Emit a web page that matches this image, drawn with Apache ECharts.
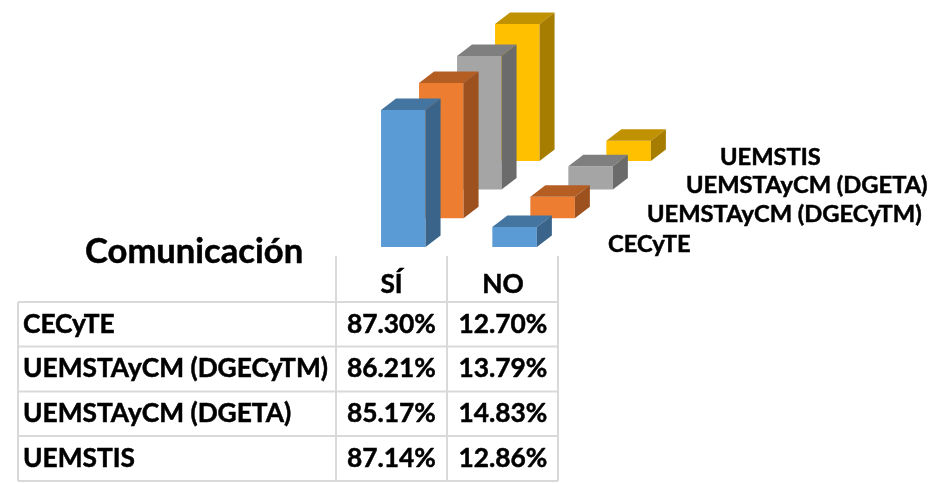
<!DOCTYPE html>
<html><head><meta charset="utf-8">
<script src="https://cdn.jsdelivr.net/npm/echarts@6/dist/echarts.min.js"></script>
<style>html,body{margin:0;padding:0;background:#fff}#c{width:933px;height:483px}</style>
</head><body><div id="c"></div>
<script>
const titleText = 'Comunicación';
const categories = ['SÍ', 'NO'];
const cecyte = [87.30, 12.70];
const dgecytm = [86.21, 13.79];
const dgeta = [85.17, 14.83];
const uemstis = [87.14, 12.86];
const seriesNames = ['CECyTE', 'UEMSTAyCM (DGECyTM)', 'UEMSTAyCM (DGETA)', 'UEMSTIS'];
const seriesValues = [cecyte, dgecytm, dgeta, uemstis];

const faceColors = ['#5B9BD5', '#ED7D31', '#A5A5A5', '#FFC000'];
const topColors = ['#4475A0', '#B55E24', '#7F7F7F', '#C09100'];
const sideColors = ['#3A648A', '#9C511F', '#6B6B6B', '#A67D00'];
const FONT = 'Lato';
const stepX = 38, stepY = 28.7, depthX = 15, depthY = 11.5, barFrac = 0.4;

function bar3d(idx) {
  return function (params, api) {
    const base = api.coord([api.value(0), 0]);
    const top = api.coord([api.value(0), api.value(1)]);
    const w = api.size([1, 0])[0] * barFrac;
    const x0 = base[0] - w / 2 + stepX * idx, x1 = x0 + w;
    const yb = base[1] - stepY * idx, yt = top[1] - stepY * idx;
    const poly = (points, fill) => ({type: 'polygon', shape: {points}, style: {fill}});
    return {type: 'group', children: [
      poly([[x0, yb], [x1, yb], [x1, yt], [x0, yt]], faceColors[idx]),
      poly([[x0, yt], [x1, yt], [x1 + depthX, yt - depthY], [x0 + depthX, yt - depthY]], topColors[idx]),
      poly([[x1, yb], [x1 + depthX, yb - depthY], [x1 + depthX, yt - depthY], [x1, yt]], sideColors[idx])
    ]};
  };
}

const series = [3, 2, 1, 0].map(i => ({
  type: 'custom', name: seriesNames[i], clip: false, z: 4 - i,
  renderItem: bar3d(i),
  data: seriesValues[i].map((v, c) => [c, v]),
  encode: {x: 0, y: 1}
}));

const lineColor = '#D9D9D9';
const rowY = [302, 346.5, 391.5, 436, 481];
const colX = [18, 336, 447, 558];
const headTop = 256;
const g = [];
const line = (x1, y1, x2, y2) => g.push({type: 'line', shape: {x1, y1, x2, y2}, style: {stroke: lineColor, lineWidth: 2}, silent: true});
rowY.forEach(y => line(colX[0], y, colX[3], y));
line(colX[0], rowY[0], colX[0], rowY[4]);
colX.slice(1).forEach(x => line(x, headTop, x, rowY[4]));
const text = (t, x, y, size, align) => g.push({type: 'text', x, y, silent: true, style: {text: t, fontFamily: FONT, fontWeight: 'bold', fontSize: size, fill: '#000', stroke: '#000', lineWidth: 0.5, align: align || 'left', verticalAlign: 'middle'}});
const pctCol = [391.5, 503];
categories.forEach((c, i) => text(c, pctCol[i], 285, 26.3, 'center'));
seriesNames.forEach((n, r) => {
  const cy = (rowY[r] + rowY[r + 1]) / 2;
  text(n, 23, cy, 26.3);
  seriesValues[r].forEach((v, c) => text(v.toFixed(2) + '%', pctCol[c], cy, 26.3, 'center'));
});
const depthLabelX = [608, 647, 686, 720], depthLabelY = [244, 214, 185, 157];
seriesNames.forEach((n, i) => text(n, depthLabelX[i], depthLabelY[i], 23.7));
text(titleText, 85, 252, 34.6);

const chart = echarts.init(document.getElementById('c'), null, {renderer: 'canvas'});
chart.setOption({
  animation: false,
  backgroundColor: '#fff',
  grid: {left: 347.65, width: 222.6, top: 90, height: 157},
  xAxis: {type: 'category', data: categories, show: false},
  yAxis: {type: 'value', min: 0, max: 100, show: false},
  series,
  graphic: g
});
</script></body></html>
